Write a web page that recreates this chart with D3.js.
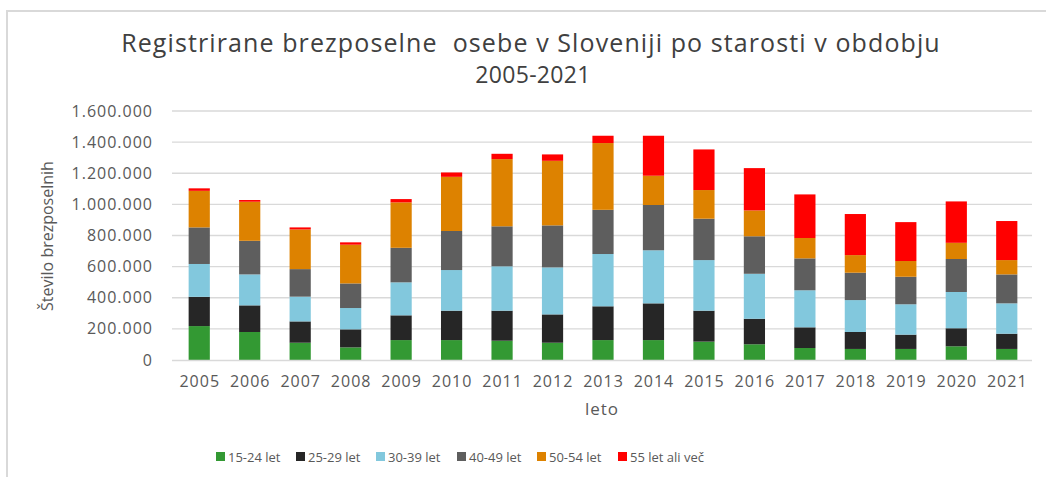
<!DOCTYPE html>
<html>
<head>
<meta charset="utf-8">
<script src="https://cdn.jsdelivr.net/npm/d3@7"></script>
<style>
  body { margin: 0; background: #fff; }
  svg { display: block; font-family: "Open Sans", sans-serif; }
</style>
</head>
<body>
<svg id="chart" width="1046" height="477"></svg>
<script>
// categories and series (thousands of persons)
const years = ["2005","2006","2007","2008","2009","2010","2011","2012","2013","2014","2015","2016","2017","2018","2019","2020","2021"];
const seriesNames = ["15-24 let","25-29 let","30-39 let","40-49 let","50-54 let","55 let ali več"];
const colors = ["#339933","#262626","#82c8dd","#5e5e5e","#dd8200","#ff0000"];

const age15_24 = [218,180,111, 81,128,128,124,111,128,128,118,101, 77, 71, 71, 88, 71];
const age25_29 = [188,171,137,116,159,189,193,182,217,236,199,164,133,109, 92,116, 98];
const age30_39 = [211,199,159,137,212,261,285,302,336,341,325,289,238,205,195,233,195];
const age40_49 = [235,216,177,158,222,251,257,270,284,291,266,241,205,176,177,212,186];
const age50_54 = [235,251,255,249,292,348,432,415,429,188,184,166,131,113,101,104, 92];
const age55    = [ 16, 11, 13, 15, 21, 28, 34, 41, 47,257,261,272,280,264,250,266,251];

const yTicks = [0,200000,400000,600000,800000,1000000,1200000,1400000,1600000];

const seriesValues = [age15_24, age25_29, age30_39, age40_49, age50_54, age55];
const table = years.map((y, i) => {
  const row = {year: y};
  seriesNames.forEach((s, k) => row[s] = seriesValues[k][i] * 1000);
  return row;
});

const svg = d3.select("#chart");
const W = 1046, H = 477;
const plotLeft = 174, plotRight = 1032, plotTop = 111, plotBottom = 360;

// frame
svg.append("path")
    .attr("d", `M7,${H} V11 H${W}`)
    .attr("fill", "none")
    .attr("stroke", "#d9d9d9")
    .attr("stroke-width", 2);

const x = d3.scaleBand().domain(years).range([plotLeft, plotRight]).paddingInner(0.58).paddingOuter(0.29);
const y = d3.scaleLinear().domain([0, 1600000]).range([plotBottom, plotTop]);

// grid
svg.append("g")
  .selectAll("line")
  .data(yTicks.slice(1))
  .join("line")
    .attr("x1", plotLeft - 2).attr("x2", plotRight)
    .attr("y1", d => y(d)).attr("y2", d => y(d))
    .attr("stroke", "#d9d9d9").attr("stroke-width", 1.3);

const fmt = d => d3.format(",")(d).replace(/,/g, ".");

svg.append("g")
    .attr("font-size", 16)
    .attr("letter-spacing", 1)
    .attr("fill", "#595959")
    .attr("text-anchor", "end")
  .selectAll("text")
  .data(yTicks)
  .join("text")
    .attr("x", 153)
    .attr("y", d => y(d))
    .attr("dy", "0.35em")
    .text(fmt);

const stack = d3.stack().keys(seriesNames)(table);

svg.append("g")
  .selectAll("g")
  .data(stack)
  .join("g")
    .attr("fill", (d, i) => colors[i])
  .selectAll("rect")
  .data(d => d)
  .join("rect")
    .attr("x", d => x(d.data.year))
    .attr("width", x.bandwidth())
    .attr("y", d => y(d[1]))
    .attr("height", d => y(d[0]) - y(d[1]));

// axis line
svg.append("line")
    .attr("x1", plotLeft - 2).attr("x2", plotRight)
    .attr("y1", plotBottom + 0.5).attr("y2", plotBottom + 0.5)
    .attr("stroke", "#d9d9d9").attr("stroke-width", 1.5);

svg.append("g")
    .attr("font-size", 16)
    .attr("letter-spacing", 1)
    .attr("fill", "#595959")
    .attr("text-anchor", "middle")
  .selectAll("text")
  .data(years)
  .join("text")
    .attr("x", d => x(d) + x.bandwidth() / 2 + 0.5)
    .attr("y", 387)
    .text(d => d);

svg.append("text")
    .attr("x", 602).attr("y", 415)
    .attr("text-anchor", "middle")
    .attr("font-size", 17)
    .attr("letter-spacing", 1)
    .attr("fill", "#595959")
    .text("leto");

svg.append("text")
    .attr("transform", "translate(53,236) rotate(-90)")
    .attr("text-anchor", "middle")
    .attr("font-size", 16)
    .attr("fill", "#595959")
    .text("Število brezposelnih");

// title
const title = svg.append("text")
    .attr("text-anchor", "middle")
    .attr("fill", "#404040")
    .style("white-space", "pre");
title.append("tspan").attr("x", 531).attr("y", 52)
    .attr("font-size", 25)
    .attr("letter-spacing", 1.1)
    .text("Registrirane brezposelne  osebe v Sloveniji po starosti v obdobju");
title.append("tspan").attr("x", 533).attr("y", 83)
    .attr("font-size", 23)
    .attr("letter-spacing", 0.3)
    .text("2005-2021");

// legend
const legendX = [216, 296, 376, 457, 537, 618];
const lg = svg.append("g")
  .selectAll("g")
  .data(seriesNames)
  .join("g")
    .attr("transform", (d, i) => `translate(${legendX[i]},457)`);
lg.append("rect")
    .attr("x", 0).attr("y", -5).attr("width", 9).attr("height", 9)
    .attr("fill", (d, i) => colors[i]);
lg.append("text")
    .attr("x", 12).attr("y", 0).attr("dy", "0.35em")
    .attr("font-size", 13)
    .attr("fill", "#595959")
    .text(d => d);
</script>
</body>
</html>
